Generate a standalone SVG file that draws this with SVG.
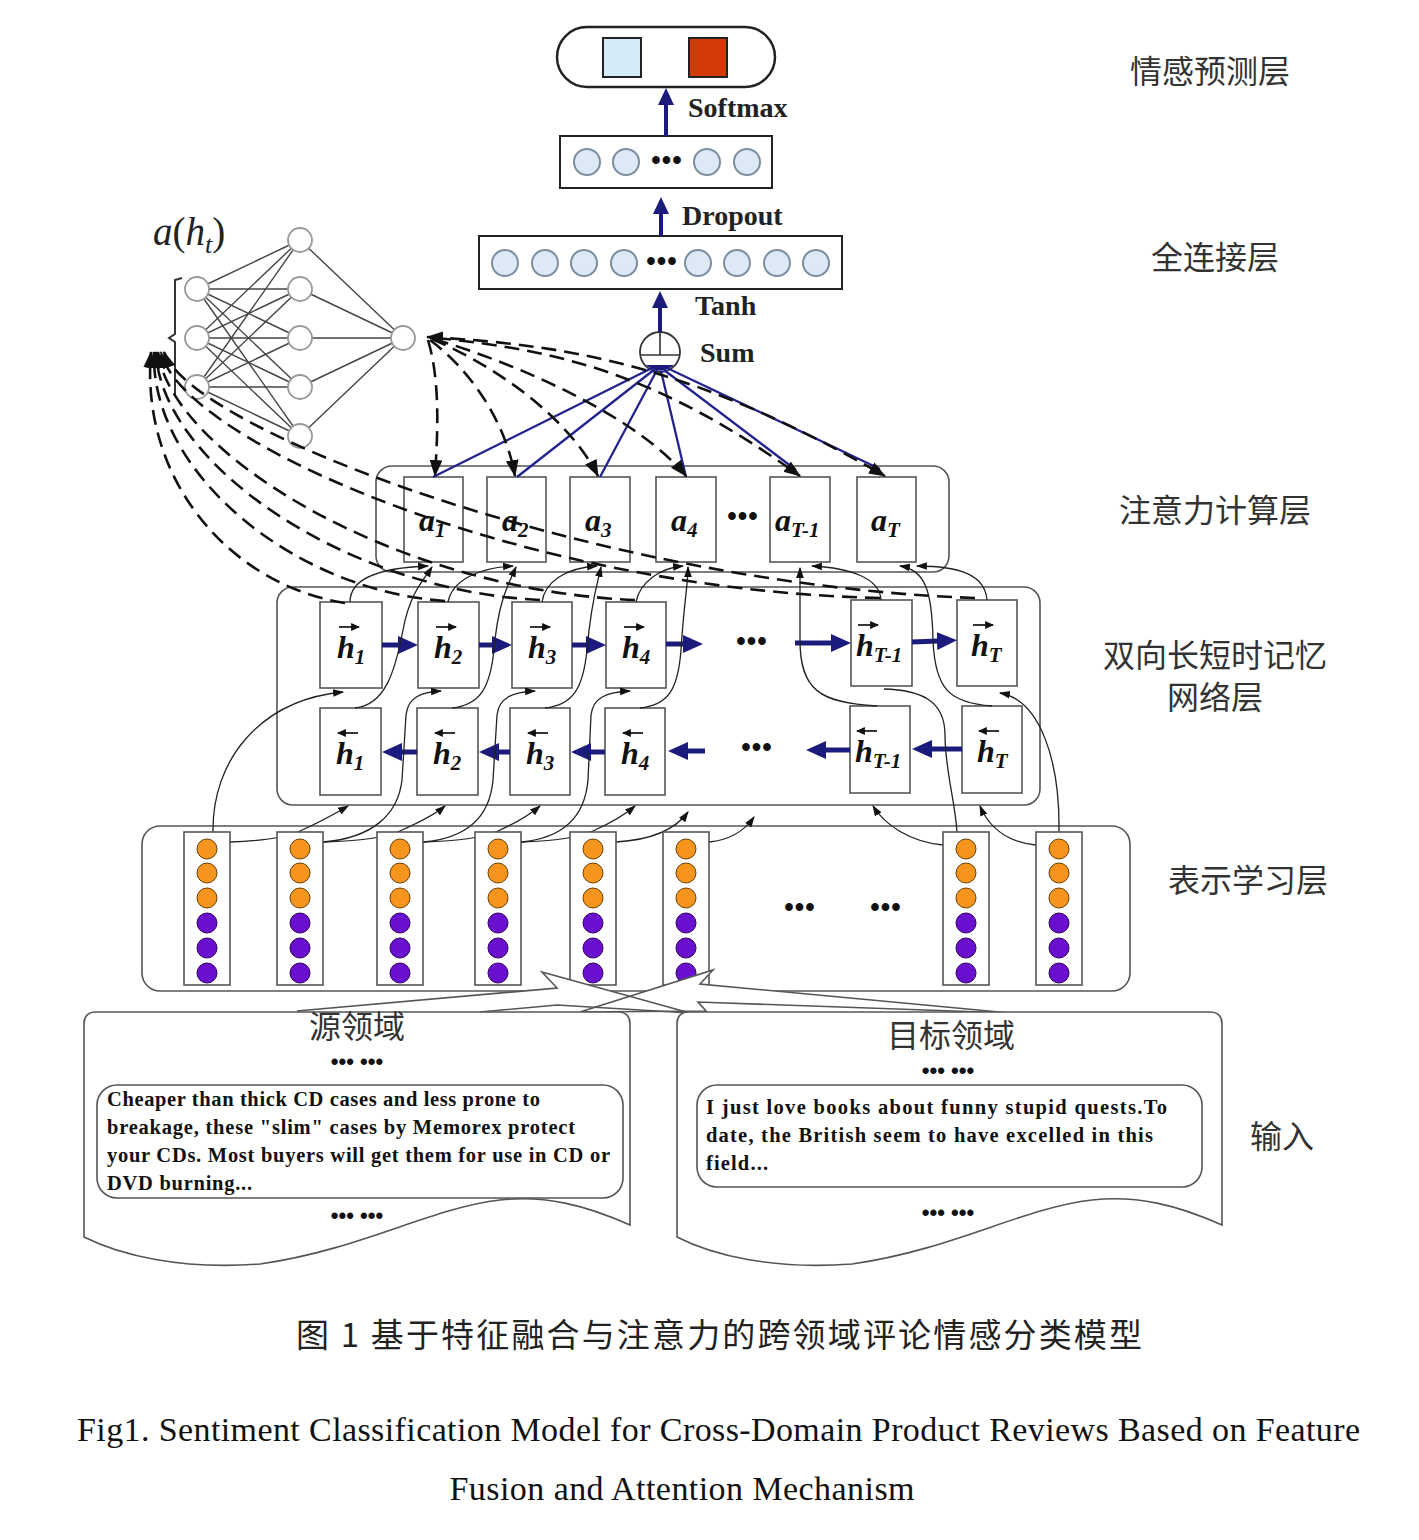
<svg xmlns="http://www.w3.org/2000/svg" width="1419" height="1540" viewBox="0 0 1419 1540">
<defs>
<style>
.bx{fill:#fff;stroke:#555;stroke-width:1.6}
.lay{fill:none;stroke:#555;stroke-width:1.6}
.fc{fill:#dde9f5;stroke:#7c8ea0;stroke-width:2}
.nn{fill:#fff;stroke:#999;stroke-width:1.8}
.nl{stroke:#444;stroke-width:1.4}
.or{fill:#f7941d;stroke:#6b4000;stroke-width:1}
.pu{fill:#6a0fd0;stroke:#32005e;stroke-width:1}
.lbl{font-family:"Liberation Serif",serif;font-weight:bold;font-size:28px;fill:#222}
.hv{font-family:"Liberation Serif",serif;font-weight:bold;font-style:italic;font-size:32px;fill:#111}
.sb{font-size:21px}
.cn{font-family:"Noto Sans CJK SC","Noto Sans",sans-serif;font-size:32px;fill:#333}
.tx{font-family:"Liberation Serif",serif;font-weight:bold;font-size:20.5px;fill:#111}
.dots{font-family:"Liberation Sans",sans-serif;font-weight:bold;font-size:27px;letter-spacing:1px;fill:#111}
.dsm{font-family:"Liberation Sans",sans-serif;font-weight:bold;font-size:22px;fill:#111}
.nav{stroke:#1b1b7d;fill:none}
.thin{fill:none;stroke:#222;stroke-width:1.3}
.dash{fill:none;stroke:#111;stroke-width:2.6;stroke-dasharray:15 8}
.blu{stroke:#23238f;stroke-width:2.3;fill:none}
.cap{font-family:"Liberation Serif",serif;font-size:34px;fill:#111}
</style>
<marker id="mNav" markerUnits="userSpaceOnUse" markerWidth="22" markerHeight="22" viewBox="0 0 22 22" refX="1" refY="11" orient="auto"><path d="M0,2 L20,11 L0,20 z" fill="#1b1b7d"/></marker>
<marker id="mNavS" markerUnits="userSpaceOnUse" markerWidth="18" markerHeight="18" viewBox="0 0 18 18" refX="1" refY="9" orient="auto"><path d="M0,1 L17,9 L0,17 z" fill="#1b1b7d"/></marker>
<marker id="mBlk" markerUnits="userSpaceOnUse" markerWidth="11" markerHeight="11" viewBox="0 0 10 10" refX="9" refY="5" orient="auto"><path d="M0,1.5 L10,5 L0,8.5 z" fill="#111"/></marker>
<marker id="mDash" markerUnits="userSpaceOnUse" markerWidth="17" markerHeight="17" viewBox="0 0 16 16" refX="15" refY="8" orient="auto-start-reverse"><path d="M0,2 L16,8 L0,14 z" fill="#111"/></marker>
<marker id="mTiny" markerUnits="userSpaceOnUse" markerWidth="9" markerHeight="9" viewBox="0 0 8 8" refX="7" refY="4" orient="auto"><path d="M0,0.5 L8,4 L0,7.5 z" fill="#111"/></marker>
</defs>
<rect width="1419" height="1540" fill="#fff"/>

<!-- layer labels -->
<g id="layer-labels">
<text class="cn" x="1210" y="83" text-anchor="middle">情感预测层</text>
<text class="cn" x="1215" y="269" text-anchor="middle">全连接层</text>
<text class="cn" x="1215" y="522" text-anchor="middle">注意力计算层</text>
<text class="cn" x="1215" y="667" text-anchor="middle">双向长短时记忆</text>
<text class="cn" x="1215" y="709" text-anchor="middle">网络层</text>
<text class="cn" x="1248" y="892" text-anchor="middle">表示学习层</text>
<text class="cn" x="1282" y="1148" text-anchor="middle">输入</text>
</g>

<!-- output -->
<g id="output">
<rect x="557" y="27" width="218" height="60" rx="30" fill="#fff" stroke="#222" stroke-width="2.5"/>
<rect x="603" y="38" width="38" height="39" fill="#d4ecf9" stroke="#222" stroke-width="2"/>
<rect x="689" y="38" width="38" height="39" fill="#d23a08" stroke="#222" stroke-width="2"/>
</g>
<g id="fc2">
<rect x="560" y="136" width="212" height="52" fill="#fff" stroke="#222" stroke-width="2"/>
<circle class="fc" cx="587" cy="162" r="13"/><circle class="fc" cx="626" cy="162" r="13"/>
<circle class="fc" cx="707" cy="162" r="13"/><circle class="fc" cx="747" cy="162" r="13"/>
<text class="dots" x="667" y="169" text-anchor="middle">•••</text>
</g>
<g id="fc1">
<rect x="479" y="236" width="363" height="53" fill="#fff" stroke="#222" stroke-width="2"/>
<circle class="fc" cx="505" cy="263" r="13"/><circle class="fc" cx="545" cy="263" r="13"/>
<circle class="fc" cx="584" cy="263" r="13"/><circle class="fc" cx="624" cy="263" r="13"/>
<circle class="fc" cx="698" cy="263" r="13"/><circle class="fc" cx="737" cy="263" r="13"/>
<circle class="fc" cx="777" cy="263" r="13"/><circle class="fc" cx="816" cy="263" r="13"/>
<text class="dots" x="662" y="270" text-anchor="middle">•••</text>
</g>
<g id="sum">
<circle cx="660" cy="352" r="20" fill="#fff" stroke="#333" stroke-width="1.8"/>
<line x1="660" y1="332" x2="660" y2="355" stroke="#333" stroke-width="1.6"/>
<line x1="641" y1="355" x2="679" y2="355" stroke="#333" stroke-width="1.6"/>
<path d="M646,365 L674,365 A20,20 0 0 1 646,365 z" fill="#1b1b7d"/>
</g>
<g id="op-labels">
<text class="lbl" x="688" y="117">Softmax</text>
<text class="lbl" x="682" y="225">Dropout</text>
<text class="lbl" x="695" y="315">Tanh</text>
<text class="lbl" x="700" y="362">Sum</text>
</g>

<!-- attention MLP -->
<g id="mlp">
<text x="153" y="245" font-family="Liberation Serif,serif" font-size="39" fill="#222"><tspan font-style="italic">a</tspan>(<tspan font-style="italic">h</tspan><tspan font-style="italic" font-size="26" dy="8">t</tspan><tspan dy="-8">)</tspan></text>
<path d="M182,278 L175,280 L175,334 L169,338 L175,342 L175,396" fill="none" stroke="#333" stroke-width="2"/>
<g class="nl">
<line x1="197" y1="289" x2="300" y2="240"/><line x1="197" y1="289" x2="300" y2="289"/><line x1="197" y1="289" x2="300" y2="338"/><line x1="197" y1="289" x2="300" y2="387"/><line x1="197" y1="289" x2="300" y2="436"/>
<line x1="197" y1="338" x2="300" y2="240"/><line x1="197" y1="338" x2="300" y2="289"/><line x1="197" y1="338" x2="300" y2="338"/><line x1="197" y1="338" x2="300" y2="387"/><line x1="197" y1="338" x2="300" y2="436"/>
<line x1="197" y1="387" x2="300" y2="240"/><line x1="197" y1="387" x2="300" y2="289"/><line x1="197" y1="387" x2="300" y2="338"/><line x1="197" y1="387" x2="300" y2="387"/><line x1="197" y1="387" x2="300" y2="436"/>
<line x1="300" y1="240" x2="403" y2="338"/><line x1="300" y1="289" x2="403" y2="338"/><line x1="300" y1="338" x2="403" y2="338"/><line x1="300" y1="387" x2="403" y2="338"/><line x1="300" y1="436" x2="403" y2="338"/>
</g>
<circle class="nn" cx="197" cy="289" r="12"/><circle class="nn" cx="197" cy="338" r="12"/><circle class="nn" cx="197" cy="387" r="12"/>
<circle class="nn" cx="300" cy="240" r="12"/><circle class="nn" cx="300" cy="289" r="12"/><circle class="nn" cx="300" cy="338" r="12"/><circle class="nn" cx="300" cy="387" r="12"/><circle class="nn" cx="300" cy="436" r="12"/>
<circle class="nn" cx="403" cy="338" r="12"/>
</g>

<!-- attention layer -->
<g id="attention-layer">
<rect class="lay" x="376" y="466" width="573" height="106" rx="16"/>
</g>
<g id="a1"><rect class="bx" x="404" y="477" width="59" height="85"/><text class="hv" x="419" y="531">a<tspan class="sb" dy="6">1</tspan></text></g>
<g id="a2"><rect class="bx" x="487" y="477" width="59" height="85"/><text class="hv" x="502" y="531">a<tspan class="sb" dy="6">2</tspan></text></g>
<g id="a3"><rect class="bx" x="570" y="477" width="60" height="85"/><text class="hv" x="585" y="531">a<tspan class="sb" dy="6">3</tspan></text></g>
<g id="a4"><rect class="bx" x="656" y="477" width="60" height="85"/><text class="hv" x="671" y="531">a<tspan class="sb" dy="6">4</tspan></text></g>
<g id="aT-1"><rect class="bx" x="770" y="477" width="60" height="85"/><text class="hv" x="775" y="531">a<tspan class="sb" dy="6">T-1</tspan></text></g>
<g id="aT"><rect class="bx" x="857" y="477" width="59" height="85"/><text class="hv" x="871" y="531">a<tspan class="sb" dy="6">T</tspan></text></g>
<text class="dots" x="743" y="525" text-anchor="middle">•••</text>

<!-- BiLSTM layer -->
<g id="bilstm-layer"><rect class="lay" x="277" y="587" width="763" height="218" rx="16"/></g>
<g id="hf1"><rect class="bx" x="320" y="602" width="62" height="86"/><text class="hv" x="337" y="658">h<tspan class="sb" dy="6">1</tspan></text></g>
<g id="hf2"><rect class="bx" x="418" y="602" width="61" height="86"/><text class="hv" x="434" y="658">h<tspan class="sb" dy="6">2</tspan></text></g>
<g id="hf3"><rect class="bx" x="512" y="602" width="60" height="86"/><text class="hv" x="528" y="658">h<tspan class="sb" dy="6">3</tspan></text></g>
<g id="hf4"><rect class="bx" x="606" y="602" width="60" height="86"/><text class="hv" x="622" y="658">h<tspan class="sb" dy="6">4</tspan></text></g>
<g id="hfT-1"><rect class="bx" x="851" y="600" width="61" height="86"/><text class="hv" x="856" y="656">h<tspan class="sb" dy="6">T-1</tspan></text></g>
<g id="hfT"><rect class="bx" x="957" y="600" width="60" height="86"/><text class="hv" x="971" y="656">h<tspan class="sb" dy="6">T</tspan></text></g>
<g id="hb1"><rect class="bx" x="320" y="708" width="61" height="87"/><text class="hv" x="336" y="764">h<tspan class="sb" dy="6">1</tspan></text></g>
<g id="hb2"><rect class="bx" x="417" y="708" width="61" height="87"/><text class="hv" x="433" y="764">h<tspan class="sb" dy="6">2</tspan></text></g>
<g id="hb3"><rect class="bx" x="510" y="708" width="60" height="87"/><text class="hv" x="526" y="764">h<tspan class="sb" dy="6">3</tspan></text></g>
<g id="hb4"><rect class="bx" x="605" y="708" width="60" height="87"/><text class="hv" x="621" y="764">h<tspan class="sb" dy="6">4</tspan></text></g>
<g id="hbT-1"><rect class="bx" x="850" y="706" width="60" height="87"/><text class="hv" x="855" y="762">h<tspan class="sb" dy="6">T-1</tspan></text></g>
<g id="hbT"><rect class="bx" x="962" y="706" width="60" height="87"/><text class="hv" x="977" y="762">h<tspan class="sb" dy="6">T</tspan></text></g>
<g id="h-overarrows" stroke="#111" stroke-width="1.7" fill="none">
<path d="M339,627 H359" marker-end="url(#mTiny)"/><path d="M436,627 H456" marker-end="url(#mTiny)"/><path d="M530,627 H550" marker-end="url(#mTiny)"/><path d="M624,627 H644" marker-end="url(#mTiny)"/><path d="M858,625 H878" marker-end="url(#mTiny)"/><path d="M973,625 H993" marker-end="url(#mTiny)"/>
<path d="M358,733 H338" marker-end="url(#mTiny)"/><path d="M455,733 H435" marker-end="url(#mTiny)"/><path d="M548,733 H528" marker-end="url(#mTiny)"/><path d="M643,733 H623" marker-end="url(#mTiny)"/><path d="M877,731 H857" marker-end="url(#mTiny)"/><path d="M999,731 H979" marker-end="url(#mTiny)"/>
</g>
<text class="dots" x="752" y="650" text-anchor="middle">•••</text>
<text class="dots" x="757" y="756" text-anchor="middle">•••</text>

<!-- representation layer frame -->
<g id="repr-layer"><rect class="lay" x="142" y="826" width="988" height="165" rx="18"/></g>
<text class="dots" x="800" y="916" text-anchor="middle">•••</text>
<text class="dots" x="886" y="916" text-anchor="middle">•••</text>

<!-- connectors -->
<g id="connectors">
<g stroke-width="4">
<path class="nav" d="M666,136 V104" marker-end="url(#mNavS)"/>
<path class="nav" d="M661,236 V213" marker-end="url(#mNavS)"/>
<path class="nav" d="M660,332 V307" marker-end="url(#mNavS)"/>
</g>
<g stroke-width="5">
<path class="nav" d="M382,645 H399" marker-end="url(#mNav)"/>
<path class="nav" d="M479,645 H493" marker-end="url(#mNav)"/>
<path class="nav" d="M572,645 H587" marker-end="url(#mNav)"/>
<path class="nav" d="M666,644 H684" marker-end="url(#mNav)"/>
<path class="nav" d="M795,643 L832,643" marker-end="url(#mNav)"/>
<path class="nav" d="M912,642 L938,641" marker-end="url(#mNav)"/>
<path class="nav" d="M417,752 H401" marker-end="url(#mNav)"/>
<path class="nav" d="M510,752 H498" marker-end="url(#mNav)"/>
<path class="nav" d="M605,752 H590" marker-end="url(#mNav)"/>
<path class="nav" d="M705,751 H687" marker-end="url(#mNav)"/>
<path class="nav" d="M850,750 H825" marker-end="url(#mNav)"/>
<path class="nav" d="M962,749 H931" marker-end="url(#mNav)"/>
</g>
<!-- sum to attention -->
<path class="blu" d="M652,368 L433,477"/>
<path class="blu" d="M655,369 L517,477"/>
<path class="blu" d="M657,370 L600,477"/>
<path class="blu" d="M661,371 L686,477"/>
<path class="blu" d="M664,370 L796,470"/>
<path class="blu" d="M667,368 L880,469"/>
<!-- MLP output to attention (dashed) -->
<path class="dash" d="M428,340 C440,380 438,430 435,476" marker-end="url(#mDash)"/>
<path class="dash" d="M430,340 C470,370 505,420 515,476" marker-end="url(#mDash)"/>
<path class="dash" d="M432,339 C500,368 570,420 598,476" marker-end="url(#mDash)"/>
<path class="dash" d="M434,339 C530,368 640,420 686,476" marker-end="url(#mDash)"/>
<path class="dash" d="M436,338 C560,350 660,375 800,476" marker-end="url(#mDash)"/>
<path class="dash" d="M427,337 C580,345 700,370 885,476" marker-start="url(#mDash)" marker-end="url(#mDash)"/>
<!-- h states to MLP input (dashed) -->
<path class="dash" d="M345,603 C230,585 140,480 151,352" marker-end="url(#mDash)"/>
<path class="dash" d="M445,601 C290,590 150,470 154,352" marker-end="url(#mDash)"/>
<path class="dash" d="M540,600 C340,590 160,460 156,352" marker-end="url(#mDash)"/>
<path class="dash" d="M635,600 C390,590 170,450 158,352" marker-end="url(#mDash)"/>
<path class="dash" d="M880,598 C520,590 180,440 161,352" marker-end="url(#mDash)"/>
<path class="dash" d="M975,598 C600,585 190,430 164,352" marker-end="url(#mDash)"/>
<!-- h states to attention boxes -->
<path class="thin" d="M350,602 C350,582 372,568 428,566" marker-end="url(#mBlk)"/>
<path class="thin" d="M355,708 C385,705 395,672 403,630 C410,592 425,578 432,567" marker-end="url(#mBlk)"/>
<path class="thin" d="M448,602 C452,582 475,568 513,566" marker-end="url(#mBlk)"/>
<path class="thin" d="M452,708 C480,705 490,688 494,650 C498,602 508,585 516,567" marker-end="url(#mBlk)"/>
<path class="thin" d="M542,602 C545,582 565,568 597,566" marker-end="url(#mBlk)"/>
<path class="thin" d="M545,708 C572,705 583,690 587,650 C591,602 597,585 601,567" marker-end="url(#mBlk)"/>
<path class="thin" d="M636,602 C640,582 660,568 683,566" marker-end="url(#mBlk)"/>
<path class="thin" d="M640,708 C668,705 678,690 681,650 C684,602 688,585 688,567" marker-end="url(#mBlk)"/>
<path class="thin" d="M881,600 C880,578 850,568 812,566" marker-end="url(#mBlk)"/>
<path class="thin" d="M877,706 C820,703 800,690 800,640 L800,568" marker-end="url(#mBlk)"/>
<path class="thin" d="M987,600 C985,575 960,566 917,566" marker-end="url(#mBlk)"/>
<path class="thin" d="M992,706 C950,703 935,690 933,640 C932,590 925,570 900,566" marker-end="url(#mBlk)"/>
<!-- representation to BiLSTM -->
<path class="thin" d="M213,832 C212,760 260,700 343,692" marker-end="url(#mBlk)"/>
<path class="thin" d="M230,842 C260,841 285,838 300,831 C320,822 338,812 348,806" marker-end="url(#mBlk)"/>
<path class="thin" d="M323,842 C372,838 398,815 402,780 L406,715 C408,698 420,692 441,691" marker-end="url(#mBlk)"/>
<path class="thin" d="M323,842 C360,841 385,838 400,831 C420,822 438,812 445,806" marker-end="url(#mBlk)"/>
<path class="thin" d="M423,842 C470,838 490,815 493,780 L497,715 C499,698 512,692 535,691" marker-end="url(#mBlk)"/>
<path class="thin" d="M423,842 C458,841 483,838 498,831 C518,822 533,812 540,806" marker-end="url(#mBlk)"/>
<path class="thin" d="M521,842 C565,838 585,815 588,780 L591,715 C593,698 606,692 630,691" marker-end="url(#mBlk)"/>
<path class="thin" d="M521,842 C555,841 578,838 593,831 C613,822 628,812 635,806" marker-end="url(#mBlk)"/>
<path class="thin" d="M616,842 C650,840 675,830 688,812" marker-end="url(#mBlk)"/>
<path class="thin" d="M709,842 C730,840 745,830 754,817" marker-end="url(#mBlk)"/>
<path class="thin" d="M943,845 C910,842 885,825 873,806" marker-end="url(#mBlk)"/>
<path class="thin" d="M957,832 C955,800 945,770 945,735 C945,700 920,690 884,689"/>
<path class="thin" d="M1036,845 C1005,842 988,825 980,806" marker-end="url(#mBlk)"/>
<path class="thin" d="M1059,832 C1060,760 1040,700 1000,693" marker-end="url(#mBlk)"/>
</g>

<!-- representation columns -->
<g id="x1"><rect class="bx" x="184" y="832" width="46" height="153"/><circle class="or" cx="207" cy="849" r="10"/><circle class="or" cx="207" cy="873" r="10"/><circle class="or" cx="207" cy="898" r="10"/><circle class="pu" cx="207" cy="923" r="10"/><circle class="pu" cx="207" cy="948" r="10"/><circle class="pu" cx="207" cy="973" r="10"/></g>
<g id="x2"><rect class="bx" x="277" y="832" width="46" height="153"/><circle class="or" cx="300" cy="849" r="10"/><circle class="or" cx="300" cy="873" r="10"/><circle class="or" cx="300" cy="898" r="10"/><circle class="pu" cx="300" cy="923" r="10"/><circle class="pu" cx="300" cy="948" r="10"/><circle class="pu" cx="300" cy="973" r="10"/></g>
<g id="x3"><rect class="bx" x="377" y="832" width="46" height="153"/><circle class="or" cx="400" cy="849" r="10"/><circle class="or" cx="400" cy="873" r="10"/><circle class="or" cx="400" cy="898" r="10"/><circle class="pu" cx="400" cy="923" r="10"/><circle class="pu" cx="400" cy="948" r="10"/><circle class="pu" cx="400" cy="973" r="10"/></g>
<g id="x4"><rect class="bx" x="475" y="832" width="46" height="153"/><circle class="or" cx="498" cy="849" r="10"/><circle class="or" cx="498" cy="873" r="10"/><circle class="or" cx="498" cy="898" r="10"/><circle class="pu" cx="498" cy="923" r="10"/><circle class="pu" cx="498" cy="948" r="10"/><circle class="pu" cx="498" cy="973" r="10"/></g>
<g id="x5"><rect class="bx" x="570" y="832" width="46" height="153"/><circle class="or" cx="593" cy="849" r="10"/><circle class="or" cx="593" cy="873" r="10"/><circle class="or" cx="593" cy="898" r="10"/><circle class="pu" cx="593" cy="923" r="10"/><circle class="pu" cx="593" cy="948" r="10"/><circle class="pu" cx="593" cy="973" r="10"/></g>
<g id="x6"><rect class="bx" x="663" y="832" width="46" height="153"/><circle class="or" cx="686" cy="849" r="10"/><circle class="or" cx="686" cy="873" r="10"/><circle class="or" cx="686" cy="898" r="10"/><circle class="pu" cx="686" cy="923" r="10"/><circle class="pu" cx="686" cy="948" r="10"/><circle class="pu" cx="686" cy="973" r="10"/></g>
<g id="x7"><rect class="bx" x="943" y="832" width="46" height="153"/><circle class="or" cx="966" cy="849" r="10"/><circle class="or" cx="966" cy="873" r="10"/><circle class="or" cx="966" cy="898" r="10"/><circle class="pu" cx="966" cy="923" r="10"/><circle class="pu" cx="966" cy="948" r="10"/><circle class="pu" cx="966" cy="973" r="10"/></g>
<g id="x8"><rect class="bx" x="1036" y="832" width="46" height="153"/><circle class="or" cx="1059" cy="849" r="10"/><circle class="or" cx="1059" cy="873" r="10"/><circle class="or" cx="1059" cy="898" r="10"/><circle class="pu" cx="1059" cy="923" r="10"/><circle class="pu" cx="1059" cy="948" r="10"/><circle class="pu" cx="1059" cy="973" r="10"/></g>

<!-- block arrows from inputs -->
<g id="input-arrows">
<polygon points="297,1011 557,988 542,972 690,1013 557,1005 480,1012" fill="#fff"/>
<polygon points="1010,1013 700,984 713,970 580,1012 706,1011 698,1002" fill="#fff"/>
<polyline points="297,1011 557,988 542,972 690,1013" fill="none" stroke="#555" stroke-width="1.6"/>
<polyline points="690,1013 557,1005 480,1012" fill="none" stroke="#555" stroke-width="1.6"/>
<polyline points="1010,1013 700,984 713,970 580,1012" fill="none" stroke="#555" stroke-width="1.6"/>
<polyline points="580,1012 706,1011 698,1002 1010,1013" fill="none" stroke="#555" stroke-width="1.6"/>
</g>

<!-- inputs -->
<g id="source-domain">
<path d="M96,1012 L618,1012 Q630,1012 630,1024 L630,1225 C585,1205 545,1195 500,1200 C430,1208 360,1250 260,1264 C180,1270 120,1255 84,1237 L84,1024 Q84,1012 96,1012 Z" fill="#fff" stroke="#555" stroke-width="1.6"/>
<text class="cn" x="357" y="1038" text-anchor="middle">源领域</text>
<text class="dsm" x="357" y="1069" text-anchor="middle">••• •••</text>
<rect x="97" y="1085" width="526" height="113" rx="20" fill="none" stroke="#555" stroke-width="1.6"/>
<text class="tx" x="107" y="1106" textLength="433">Cheaper than thick CD cases and less prone to</text>
<text class="tx" x="107" y="1134" textLength="468">breakage, these "slim" cases by Memorex protect</text>
<text class="tx" x="107" y="1162" textLength="503">your CDs. Most buyers will get them for use in CD or</text>
<text class="tx" x="107" y="1190" textLength="145">DVD burning...</text>
<text class="dsm" x="357" y="1223" text-anchor="middle">••• •••</text>
</g>
<g id="target-domain">
<path d="M689,1012 L1210,1012 Q1222,1012 1222,1024 L1222,1225 C1177,1205 1137,1195 1092,1200 C1022,1208 952,1250 852,1264 C772,1270 712,1255 677,1237 L677,1024 Q677,1012 689,1012 Z" fill="#fff" stroke="#555" stroke-width="1.6"/>
<text class="cn" x="951" y="1047" text-anchor="middle">目标领域</text>
<text class="dsm" x="948" y="1078" text-anchor="middle">••• •••</text>
<rect x="697" y="1085" width="505" height="102" rx="20" fill="none" stroke="#555" stroke-width="1.6"/>
<text class="tx" x="706" y="1114" textLength="461">I just love books about funny stupid quests.To</text>
<text class="tx" x="706" y="1142" textLength="447">date, the British seem to have excelled in this</text>
<text class="tx" x="706" y="1170" textLength="62">field...</text>
<text class="dsm" x="948" y="1220" text-anchor="middle">••• •••</text>
</g>

<!-- caption -->
<g id="caption">
<text x="719" y="1347" text-anchor="middle" font-family="Noto Sans CJK SC,sans-serif" font-size="33" fill="#222" textLength="846">图 1  基于特征融合与注意力的跨领域评论情感分类模型</text>
<text class="cap" x="77" y="1441" textLength="1283">Fig1. Sentiment Classification Model for Cross-Domain Product Reviews Based on Feature</text>
<text class="cap" x="682" y="1500" text-anchor="middle" textLength="465">Fusion and Attention Mechanism</text>
</g>
</svg>
